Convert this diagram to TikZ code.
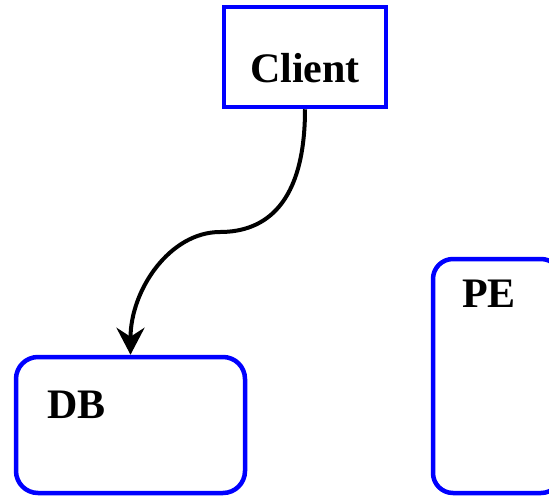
\documentclass[tikz,border=0pt]{standalone}
\usepackage{fontspec}
\setmainfont{Liberation Serif}
\usetikzlibrary{arrows.meta,calc}
\definecolor{boxblue}{RGB}{0,0,255}
\begin{document}
\begin{tikzpicture}[x=1pt,y=-1pt,
  box/.style={draw=boxblue,line width=4.5pt,inner sep=0pt},
  lbl/.style={font=\fontsize{42}{50}\selectfont\bfseries,inner sep=0pt},
  flow/.style={line width=4pt,-{Stealth[length=27pt,width=28pt,inset=9pt]}}]
\useasboundingbox (0,0) rectangle (549,496);
\node[box,minimum width=162pt,minimum height=100pt] (client) at (305,57) {};
\node[lbl,anchor=base] (clientlbl) at (305,82) {Client};
\node[box,rounded corners=22pt,minimum width=229pt,minimum height=136pt] (db) at (130.5,425) {};
\node[lbl,anchor=base west] (dblbl) at (47,418) {DB};
\node[box,rounded corners=20pt,minimum width=128pt,minimum height=234pt] (pe) at (497,376) {};
\node[lbl,anchor=base west] (pelbl) at (462,307) {PE};
\draw[flow] (client.south) .. controls ++(0,95) and (265,232) .. (220,232)
  .. controls (170,232) and ($(db.north)+(0,-65)$) .. (db.north);
\end{tikzpicture}
\end{document}
